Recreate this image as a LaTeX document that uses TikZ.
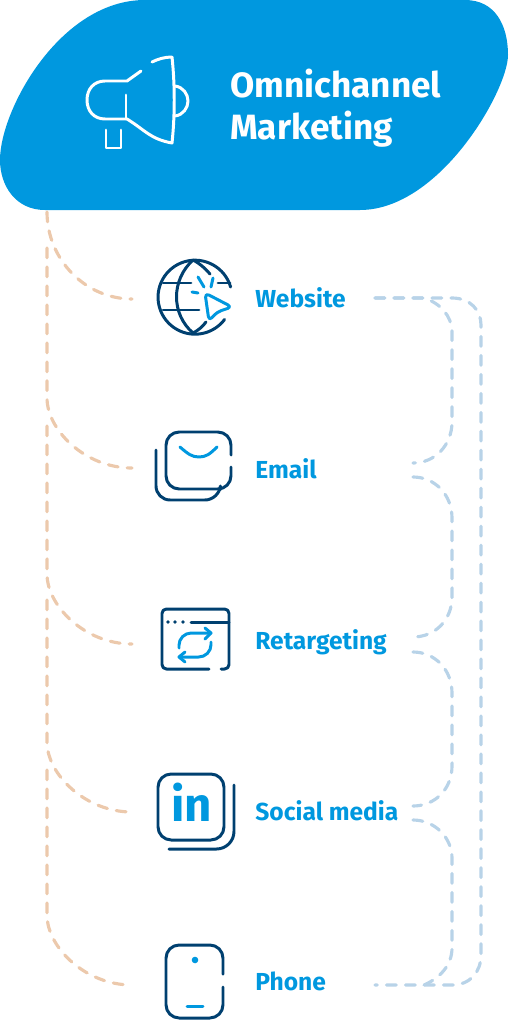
\documentclass[tikz,border=0pt]{standalone}
\usepackage{fontspec}
\setmainfont{Fira Sans}
\definecolor{skyblue}{HTML}{0098DF}
\definecolor{navy}{HTML}{004070}
\definecolor{sand}{HTML}{ECC9AC}
\definecolor{paleblue}{HTML}{B8D3E8}
\tikzset{
  sandline/.style={draw=sand,line width=1.8pt,line cap=round,dash pattern=on 5.6pt off 5.2pt},
  paleline/.style={draw=paleblue,line width=1.8pt,line cap=round,dash pattern=on 5.6pt off 5.2pt},
  navyicon/.style={draw=navy,line width=1.7pt,line cap=round,line join=round},
  skyicon/.style={draw=skyblue,line width=1.7pt,line cap=round,line join=round},
  whiteicon/.style={draw=white,line width=1.7pt,line cap=round,line join=round},
  channel/.style={anchor=base west,inner sep=0pt,text=skyblue,font=\bfseries\fontsize{14}{16}\selectfont}
}
\begin{document}
\begin{tikzpicture}[x=0.02cm,y=-0.02cm]
  \useasboundingbox (0,0) rectangle (508,1024);
  \fill[skyblue] (145,0) -- (465,0) .. controls (495,0) and (508,25) .. (508,55)
    .. controls (508,90) and (440,210) .. (360,210) -- (45,210)
    .. controls (15,210) and (0,185) .. (0,160)
    .. controls (0,110) and (60,0) .. (145,0) -- cycle;

  \node[anchor=base west,inner sep=0pt,align=left,text=white,font=\bfseries\fontsize{20}{23.5}\selectfont] (title) at (230,139) {Omnichannel\\Marketing};
  \node[channel] (website) at (255,307) {Website};
  \node[channel] (email) at (255,478) {Email};
  \node[channel] (retargeting) at (255,649) {Retargeting};
  \node[channel] (social) at (255,820) {Social media};
  \node[channel] (phone) at (255,990) {Phone};

  \coordinate (trunk) at (47,212);
  \coordinate (emailbranch) at (47,248);
  \coordinate (retargetingbranch) at (47,426);
  \coordinate (socialbranch) at (47,600);
  \coordinate (phonebranch) at (47,770);
  \coordinate (websitein) at (132,299);
  \coordinate (emailin) at (132,468);
  \coordinate (retargetingin) at (132,644);
  \coordinate (socialin) at (132,812);
  \coordinate (phonein) at (132,985);
  \coordinate (websiteout) at (375,298);
  \coordinate (emailup) at (413,463);
  \coordinate (emaildown) at (413,477);
  \coordinate (retargetingup) at (413,637);
  \coordinate (retargetingdown) at (413,652);
  \coordinate (socialup) at (413,806);
  \coordinate (socialdown) at (413,820);
  \coordinate (phoneout) at (375,985);

  \draw[sandline] (trunk) .. controls (47,259) and (85,299) .. (websitein);
  \draw[sandline] (emailbranch) -- (47,398) .. controls (47,430) and (85,468) .. (emailin);
  \draw[sandline] (retargetingbranch) -- (47,574) .. controls (47,606) and (85,644) .. (retargetingin);
  \draw[sandline] (socialbranch) -- (47,742) .. controls (47,774) and (85,812) .. (socialin);
  \draw[sandline] (phonebranch) -- (47,915) .. controls (47,947) and (85,985) .. (phonein);

  \draw[paleline] (websiteout) -- (424,298) .. controls (440,303) and (452,316) .. (452,332)
    -- (452,422) .. controls (452,445) and (435,463) .. (emailup);
  \draw[paleline] (websiteout) -- (452,298) .. controls (470,298) and (481,310) .. (481,325)
    -- (481,955) .. controls (481,972) and (470,985) .. (452,985) -- (phoneout);
  \draw[paleline] (emaildown) .. controls (435,477) and (452,495) .. (452,518)
    -- (452,597) .. controls (452,620) and (435,637) .. (retargetingup);
  \draw[paleline] (retargetingdown) .. controls (435,652) and (452,670) .. (452,693)
    -- (452,766) .. controls (452,789) and (435,806) .. (socialup);
  \draw[paleline] (socialdown) .. controls (435,820) and (452,838) .. (452,858)
    -- (452,948) .. controls (452,965) and (440,978) .. (424,985);

  \draw[whiteicon] (152,62) .. controls (158,59) and (165,57) .. (172,57)
    .. controls (175,85) and (175,115) .. (172,143)
    .. controls (150,139) and (145,130) .. (127,119) -- (105,119)
    .. controls (94,119) and (87,111) .. (87,100)
    .. controls (87,89) and (94,81) .. (105,81) -- (127,81) -- (141,71);
  \draw[whiteicon] (126,95) -- (126,119);
  \draw[whiteicon] (175,86) .. controls (183,87) and (188,94) .. (188,101)
    .. controls (188,108) and (183,115) .. (175,116);
  \draw[whiteicon] (106,130) -- (106,148) -- (121,148) -- (121,130);

  \draw[navyicon] (230.6,287) arc[start angle=-16,end angle=-323,radius=37];
  \draw[navyicon] (193,260) .. controls (171,280) and (171,314) .. (193,333);
  \draw[navyicon] (193,260) .. controls (199,263) and (205,268) .. (210,274);
  \draw[navyicon] (193,333) .. controls (199,330) and (203,326) .. (206,322);
  \draw[navyicon] (163,283) -- (191,283);
  \draw[navyicon] (163,310) -- (199,310);
  \draw[navyicon] (218,283) -- (230,283);
  \draw[skyicon,rounded corners=2.5pt] (205,293) -- (232,307) -- (217,312) -- (209,321) -- cycle;
  \draw[skyicon] (198,277) -- (204,287);
  \draw[skyicon] (213,278) -- (211,287);
  \draw[skyicon] (192,292) -- (198,293);

  \draw[navyicon,rounded corners=7.5pt] (231,455) -- (231,432) -- (166,432) -- (166,489) -- (231,489) -- (231,467);
  \draw[navyicon,rounded corners=8pt] (156,450) -- (156,500) -- (219,500) -- (220,490);
  \draw[skyicon] (180,447) .. controls (188,454) and (192,457) .. (199,457)
    .. controls (206,457) and (210,454) .. (217,447);

  \draw[navyicon,rounded corners=2.5pt] (209,669) -- (162,669) -- (162,609) -- (229,609) -- (229,669) -- (221,669);
  \draw[navyicon] (191,622) -- (229,622);
  \fill[navy] (168,622) circle[radius=1.8] (175,622) circle[radius=1.8] (183,622) circle[radius=1.8];
  \draw[skyicon,rounded corners=7pt] (179,648) -- (179,633) -- (211,633);
  \draw[skyicon] (205,628) -- (211,633) -- (205,639);
  \draw[skyicon,rounded corners=7pt] (211,642) -- (211,657) -- (179,657);
  \draw[skyicon] (185,652) -- (179,657) -- (185,662);

  \draw[navyicon,rounded corners=7.5pt] (158,774) rectangle (224,840);
  \draw[navyicon,rounded corners=10pt] (234,785) -- (234,849) -- (169,849);
  \node[inner sep=0pt,anchor=base west,text=skyblue,font=\bfseries\fontsize{27}{27}\selectfont] (linkedin) at (171,821) {in};

  \draw[navyicon,rounded corners=7.5pt] (223,974) -- (223,945) -- (166,945) -- (166,1018) -- (223,1018) -- (223,987);
  \fill[skyblue] (195,960) circle[radius=3.3];
  \draw[skyicon] (187,1006) -- (203,1006);
\end{tikzpicture}
\end{document}
